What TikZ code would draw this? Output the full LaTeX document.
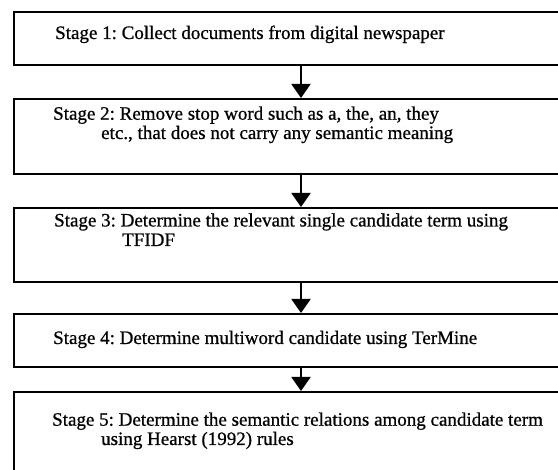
\documentclass[tikz,border=0pt]{standalone}
\usepackage{fontspec}
\setmainfont{Liberation Serif}[FakeBold=0.7]
\usetikzlibrary{arrows.meta,positioning}

\tikzset{
  stagebox/.style={draw, line width=2pt, minimum width=574pt, minimum height=#1,
    anchor=north west, inner sep=0pt},
  stagetext/.style={anchor=base west, align=left, inner sep=0pt,
    font=\fontsize{19}{15}\selectfont\frenchspacing},
  flowarrow/.style={line width=2pt, -{Triangle[width=19pt,length=14pt]}},
}

\begin{document}
\begin{tikzpicture}[x=1pt,y=-1pt]
        \useasboundingbox (0,0) rectangle (558,470);
        \clip (0,0) rectangle (558,470);

        % stages
        \node[stagebox=53pt] (s1) at (13,11) {};
        \node[stagebox=75pt] (s2) at (13,98) {};
        \node[stagebox=74pt] (s3) at (13,207) {};
        \node[stagebox=53pt] (s4) at (13,313) {};
        \node[stagebox=100pt] (s5) at (13,391) {};

        % texts (base = last line)
        \node[stagetext] (t1) at (55,39) {Stage 1: Collect documents from digital newspaper};
        \node[stagetext] (t2) at (53,139) {Stage 2: Remove stop word such as a, the, an, they\\[1pt]
          \hspace*{48pt}etc., that does not carry any semantic meaning};
        \node[stagetext] (t3) at (54,246) {Stage 3: Determine the relevant single candidate term using\\[2pt]
          \hspace*{68pt}TFIDF};
        \node[stagetext] (t4) at (53,344) {Stage 4: Determine multiword candidate using TerMine};
        \node[stagetext] (t5) at (52,445) {Stage 5: Determine the semantic relations among candidate term\\[1pt]
          \hspace*{49pt}using Hearst (1992) rules};

        % arrows
        \draw[flowarrow] (s1) -- (s2);
        \draw[flowarrow] (s2) -- (s3);
        \draw[flowarrow] (s3) -- (s4);
        \draw[flowarrow] (s4) -- (s5);
\end{tikzpicture}
\end{document}
